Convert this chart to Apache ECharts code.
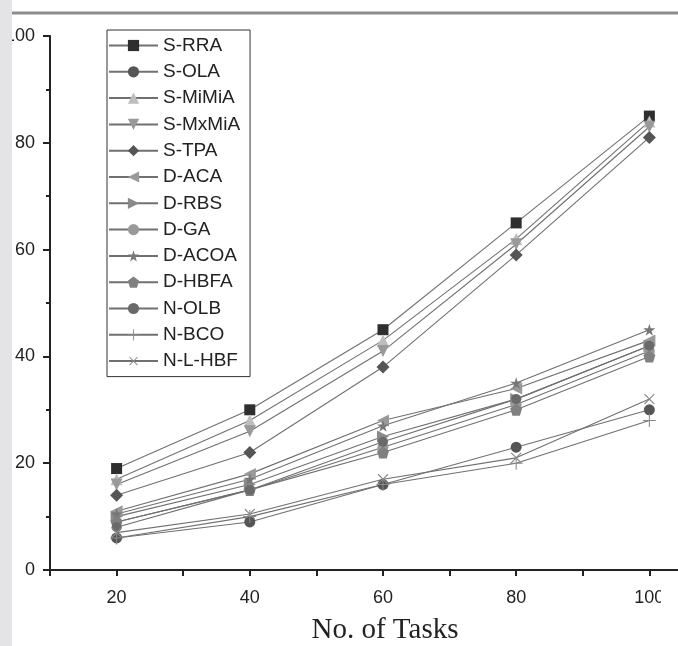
<!DOCTYPE html>
<html><head><meta charset="utf-8">
<script src="https://cdn.jsdelivr.net/npm/echarts@6/dist/echarts.min.js"></script>
<style>html,body{margin:0;padding:0;background:#fff;}#c{width:678px;height:646px;}</style>
</head><body><div id="c"></div>
<script>
const tasks = [20, 40, 60, 80, 100];
const names = ['S-RRA','S-OLA','S-MiMiA','S-MxMiA','S-TPA','D-ACA','D-RBS','D-GA','D-ACOA','D-HBFA','N-OLB','N-BCO','N-L-HBF'];
const xTitle = 'No. of Tasks';
const sRRA   = [19, 30, 45, 65, 85];
const sOLA   = [6, 9, 16, 23, 30];
const sMiMiA = [17, 28, 43, 62, 84];
const sMxMiA = [16, 26, 41, 61, 83];
const sTPA   = [14, 22, 38, 59, 81];
const dACA   = [11, 18, 28, 34, 43];
const dRBS   = [10, 16, 25, 32, 42];
const dGA    = [9, 15, 23, 31, 41];
const dACOA  = [10.5, 17, 27, 35, 45];
const dHBFA  = [9, 15, 22, 30, 40];
const nOLB   = [8, 15, 24, 32, 42];
const nBCO   = [6, 10, 16, 20, 28];
const nLHBF  = [7, 10.5, 17, 21, 32];
const values = [sRRA, sOLA, sMiMiA, sMxMiA, sTPA, dACA, dRBS, dGA, dACOA, dHBFA, nOLB, nBCO, nLHBF];

const STAR = 'path://M50,0 L61,35 L98,35 L68,57 L79,91 L50,70 L21,91 L32,57 L2,35 L39,35 Z';
const PENT = 'path://M50,0 L98,36 L80,95 L20,95 L2,36 Z';
const PLUS = 'path://M46,0 H54 V46 H100 V54 H54 V100 H46 V54 H0 V46 H46 Z';
const styles = [
  {sym:'rect', size:11, rot:0, c:'#2e2e2e'},
  {sym:'circle', size:11, rot:0, c:'#555'},
  {sym:'triangle', size:12, rot:0, c:'#bdbdbd'},
  {sym:'triangle', size:12, rot:180, c:'#999'},
  {sym:'diamond', size:13, rot:0, c:'#555'},
  {sym:'triangle', size:12, rot:90, c:'#999'},
  {sym:'triangle', size:12, rot:-90, c:'#8a8a8a'},
  {sym:'circle', size:11, rot:0, c:'#999'},
  {sym:STAR, size:12, rot:0, c:'#777'},
  {sym:PENT, size:12, rot:0, c:'#808080'},
  {sym:'circle', size:10, rot:0, c:'#6a6a6a'},
  {sym:PLUS, size:13, rot:0, c:'#888'},
  {sym:PLUS, size:14, rot:45, c:'#888'}
];

const series = names.map((n, i) => ({
  name: n,
  type: 'line',
  data: tasks.map((t, j) => [t, values[i][j]]),
  symbol: styles[i].sym,
  symbolSize: styles[i].size,
  symbolRotate: styles[i].rot,
  lineStyle: {color: '#707070', width: 1.1},
  itemStyle: {color: styles[i].c},
  z: 2
}));

const chart = echarts.init(document.getElementById('c'));
chart.setOption({
  animation: false,
  backgroundColor: '#fff',
  grid: {left: 50, right: 0, top: 36, bottom: 76, containLabel: false},
  legend: {
    orient: 'vertical', left: 107, top: 30,
    itemWidth: 49, itemHeight: 14, itemGap: 7.3,
    padding: [6, 10, 6, 1],
    borderColor: '#333', borderWidth: 1,
    textStyle: {fontFamily: 'Liberation Sans', fontSize: 19, color: '#222'},
    data: names
  },
  xAxis: {
    type: 'value', min: 10, max: 104.3, interval: 10,
    axisLine: {show: true, lineStyle: {color: '#222', width: 2}},
    axisTick: {show: true, inside: false, length: 6, lineStyle: {color: '#222', width: 2}},
    axisLabel: {margin: 19, fontFamily: 'Liberation Sans', fontSize: 18, color: '#222', showMaxLabel: false,
      formatter: v => (v % 20 === 0 ? String(v) : '')},
    splitLine: {show: false}
  },
  yAxis: {
    type: 'value', min: 0, max: 100, interval: 20,
    axisLine: {show: true, lineStyle: {color: '#222', width: 2}},
    axisTick: {show: true, length: 7, lineStyle: {color: '#222', width: 2}},
    minorTick: {show: true, splitNumber: 2, length: 4, lineStyle: {color: '#222', width: 2}},
    axisLabel: {margin: 15, fontFamily: 'Liberation Sans', fontSize: 18, color: '#222'},
    splitLine: {show: false}
  },
  graphic: [
    {type: 'rect', shape: {x: 0, y: 0, width: 12, height: 646}, style: {fill: '#e4e4e6'}, z: 100},
    {type: 'rect', shape: {x: 661, y: 580, width: 17, height: 40}, style: {fill: '#fff'}, z: 100},
    {type: 'line', shape: {x1: 12, y1: 13, x2: 678, y2: 13}, style: {stroke: '#8c8c8c', lineWidth: 3}, z: 100},
    {type: 'text', x: 385, y: 630, z: 100,
     style: {text: xTitle, font: '29px "Liberation Serif"', fill: '#222', textAlign: 'center', textVerticalAlign: 'middle'}}
  ],
  series: series
});
</script></body></html>
